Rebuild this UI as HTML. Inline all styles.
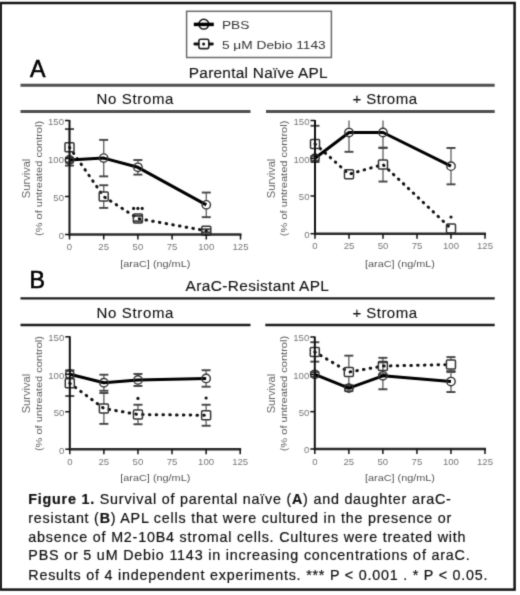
<!DOCTYPE html>
<html><head><meta charset="utf-8"><style>
html,body{margin:0;padding:0;background:#fff;width:520px;height:595px;overflow:hidden}
svg{display:block;font-family:"Liberation Sans", sans-serif}
</style></head><body>
<svg width="520" height="595" viewBox="0 0 520 595">
<defs><filter id="bl" x="-2%" y="-2%" width="104%" height="104%" color-interpolation-filters="sRGB"><feConvolveMatrix order="3" kernelMatrix="0.0192 0.1001 0.0192 0.1001 0.5228 0.1001 0.0192 0.1001 0.0192" edgeMode="none"/></filter></defs>
<rect x="0" y="0" width="520" height="595" fill="#fff"/>
<g filter="url(#bl)">
<rect x="0" y="0" width="520" height="595" fill="#fff"/>
<rect x="0.7" y="3" width="513.9" height="586.6" fill="none" stroke="#151515" stroke-width="2.5"/>
<rect x="186.6" y="11.3" width="144.8" height="46.2" fill="none" stroke="#6a6a6a" stroke-width="1.5"/>
<circle cx="203.8" cy="24.2" r="4.9" fill="#fff" stroke="#111" stroke-width="1.5"/>
<line x1="193.8" y1="24.4" x2="213.8" y2="24.4" stroke="#000" stroke-width="3.5"/>
<rect x="198.9" y="39.3" width="9.9" height="9.3" rx="1.8" fill="#fff" stroke="#222" stroke-width="1.6"/>
<line x1="194.8" y1="44" x2="198" y2="44" stroke="#111" stroke-width="2.8" stroke-linecap="round"/>
<line x1="209.6" y1="44" x2="212.4" y2="44" stroke="#111" stroke-width="2.8" stroke-linecap="round"/>
<circle cx="203.6" cy="43.9" r="1.5" fill="#111"/>
<text x="221.9" y="29.3" font-size="11.6" textLength="27.5" lengthAdjust="spacingAndGlyphs" fill="#333">PBS</text>
<text x="221.9" y="49" font-size="11.6" textLength="103.8" lengthAdjust="spacingAndGlyphs" fill="#333">5 μM Debio 1143</text>
<text x="30.1" y="76.7" font-size="23.2" fill="#000" stroke="#000" stroke-width="0.6">A</text>
<text x="188.8" y="78" font-size="15.4" textLength="138.8" lengthAdjust="spacing" fill="#151515" stroke="#151515" stroke-width="0.15">Parental Naïve APL</text>
<line x1="20.5" y1="85.2" x2="494.7" y2="85.2" stroke="#505050" stroke-width="3"/>
<text x="96.4" y="103.6" font-size="15" textLength="77" lengthAdjust="spacing" fill="#111" stroke="#111" stroke-width="0.1">No Stroma</text>
<text x="352.4" y="103.6" font-size="15" textLength="64.6" lengthAdjust="spacing" fill="#111" stroke="#111" stroke-width="0.1">+ Stroma</text>
<line x1="20.5" y1="111.6" x2="250.5" y2="111.6" stroke="#505050" stroke-width="3"/>
<line x1="266" y1="111.6" x2="494.7" y2="111.6" stroke="#505050" stroke-width="3"/>
<text x="29.4" y="288.4" font-size="23.2" fill="#000" stroke="#000" stroke-width="0.6">B</text>
<text x="185.6" y="291.2" font-size="15.4" textLength="143.3" lengthAdjust="spacing" fill="#151515" stroke="#151515" stroke-width="0.15">AraC-Resistant APL</text>
<line x1="20.5" y1="298.4" x2="494.7" y2="298.4" stroke="#1e1e1e" stroke-width="2.3"/>
<text x="96.4" y="318" font-size="15" textLength="77" lengthAdjust="spacing" fill="#111" stroke="#111" stroke-width="0.1">No Stroma</text>
<text x="352.4" y="318" font-size="15" textLength="64.6" lengthAdjust="spacing" fill="#111" stroke="#111" stroke-width="0.1">+ Stroma</text>
<line x1="20.5" y1="325" x2="250.5" y2="325" stroke="#1e1e1e" stroke-width="2.3"/>
<line x1="265.3" y1="325" x2="494.7" y2="325" stroke="#1e1e1e" stroke-width="2.3"/>
<text x="64" y="238.9" font-size="9.6" text-anchor="end" fill="#777">0</text>
<text x="64" y="200.9" font-size="9.6" text-anchor="end" fill="#777">50</text>
<text x="64" y="162.9" font-size="9.6" text-anchor="end" fill="#777">100</text>
<text x="64" y="124.9" font-size="9.6" text-anchor="end" fill="#777">150</text>
<text x="69.5" y="250" font-size="9.6" text-anchor="middle" fill="#777">0</text>
<text x="103.7" y="250" font-size="9.6" text-anchor="middle" fill="#777">25</text>
<text x="137.9" y="250" font-size="9.6" text-anchor="middle" fill="#777">50</text>
<text x="172.1" y="250" font-size="9.6" text-anchor="middle" fill="#777">75</text>
<text x="206.3" y="250" font-size="9.6" text-anchor="middle" fill="#777">100</text>
<text x="240.5" y="250" font-size="9.6" text-anchor="middle" fill="#777">125</text>
<text transform="translate(29.9,178.4) rotate(-90)" font-size="10.4" text-anchor="middle" textLength="39.5" lengthAdjust="spacingAndGlyphs" fill="#666">Survival</text>
<text transform="translate(42.3,178.4) rotate(-90)" font-size="9.6" text-anchor="middle" textLength="115" lengthAdjust="spacingAndGlyphs" fill="#5a5a5a">(% of untreated control)</text>
<text x="155.3" y="266.6" font-size="9.6" text-anchor="middle" textLength="70" lengthAdjust="spacingAndGlyphs" fill="#555">[araC] (ng/mL)</text>
<line x1="69.5" y1="142.83" x2="69.5" y2="129.09" stroke="#6a6a6a" stroke-width="1.4"/>
<line x1="65" y1="129.09" x2="74" y2="129.09" stroke="#444" stroke-width="1.9"/>
<line x1="69.5" y1="151.83" x2="69.5" y2="165.57" stroke="#6a6a6a" stroke-width="1.4"/>
<line x1="65" y1="165.57" x2="74" y2="165.57" stroke="#444" stroke-width="1.9"/>
<line x1="103.7" y1="192.08" x2="103.7" y2="185.25" stroke="#6a6a6a" stroke-width="1.4"/>
<line x1="99.2" y1="185.25" x2="108.2" y2="185.25" stroke="#444" stroke-width="1.9"/>
<line x1="103.7" y1="201.08" x2="103.7" y2="207.9" stroke="#6a6a6a" stroke-width="1.4"/>
<line x1="99.2" y1="207.9" x2="108.2" y2="207.9" stroke="#444" stroke-width="1.9"/>
<line x1="133.4" y1="215.88" x2="142.4" y2="215.88" stroke="#444" stroke-width="1.9"/>
<line x1="133.4" y1="221.2" x2="142.4" y2="221.2" stroke="#444" stroke-width="1.9"/>
<line x1="201.8" y1="229.26" x2="210.8" y2="229.26" stroke="#444" stroke-width="1.9"/>
<line x1="201.8" y1="232.3" x2="210.8" y2="232.3" stroke="#444" stroke-width="1.9"/>
<line x1="65" y1="157.74" x2="74" y2="157.74" stroke="#444" stroke-width="1.9"/>
<line x1="65" y1="162.3" x2="74" y2="162.3" stroke="#444" stroke-width="1.9"/>
<line x1="103.7" y1="153.62" x2="103.7" y2="139.88" stroke="#6a6a6a" stroke-width="1.4"/>
<line x1="99.2" y1="139.88" x2="108.2" y2="139.88" stroke="#444" stroke-width="1.9"/>
<line x1="103.7" y1="162.62" x2="103.7" y2="176.36" stroke="#6a6a6a" stroke-width="1.4"/>
<line x1="99.2" y1="176.36" x2="108.2" y2="176.36" stroke="#444" stroke-width="1.9"/>
<line x1="137.9" y1="162.82" x2="137.9" y2="160.02" stroke="#6a6a6a" stroke-width="1.4"/>
<line x1="133.4" y1="160.02" x2="142.4" y2="160.02" stroke="#444" stroke-width="1.9"/>
<line x1="137.9" y1="171.82" x2="137.9" y2="174.61" stroke="#6a6a6a" stroke-width="1.4"/>
<line x1="133.4" y1="174.61" x2="142.4" y2="174.61" stroke="#444" stroke-width="1.9"/>
<line x1="206.3" y1="200.36" x2="206.3" y2="192.55" stroke="#6a6a6a" stroke-width="1.4"/>
<line x1="201.8" y1="192.55" x2="210.8" y2="192.55" stroke="#444" stroke-width="1.9"/>
<line x1="206.3" y1="209.36" x2="206.3" y2="217.17" stroke="#6a6a6a" stroke-width="1.4"/>
<line x1="201.8" y1="217.17" x2="210.8" y2="217.17" stroke="#444" stroke-width="1.9"/>
<polyline points="69.5,147.33 103.7,196.58 137.9,218.54 206.3,230.78" fill="none" stroke="#111" stroke-width="3" stroke-dasharray="0.6 6.2" stroke-linecap="round"/>
<polyline points="69.5,160.02 103.7,158.12 137.9,167.32 206.3,204.86" fill="none" stroke="#000" stroke-width="3" stroke-linejoin="round"/>
<rect x="65" y="142.83" width="9" height="9" rx="1" fill="none" stroke="#333" stroke-width="1.5"/>
<rect x="99.2" y="192.08" width="9" height="9" rx="1" fill="none" stroke="#333" stroke-width="1.5"/>
<rect x="133.4" y="214.04" width="9" height="9" rx="1" fill="none" stroke="#333" stroke-width="1.5"/>
<rect x="201.8" y="226.28" width="9" height="9" rx="1" fill="none" stroke="#333" stroke-width="1.5"/>
<circle cx="69.5" cy="160.02" r="4.2" fill="none" stroke="#333" stroke-width="1.4"/>
<circle cx="103.7" cy="158.12" r="4.2" fill="none" stroke="#333" stroke-width="1.4"/>
<circle cx="137.9" cy="167.32" r="4.2" fill="none" stroke="#333" stroke-width="1.4"/>
<circle cx="206.3" cy="204.86" r="4.2" fill="none" stroke="#333" stroke-width="1.4"/>
<circle cx="133.6" cy="208.4" r="1.6" fill="#111"/>
<circle cx="137.9" cy="208.4" r="1.6" fill="#111"/>
<circle cx="142.2" cy="208.4" r="1.6" fill="#111"/>
<line x1="69.5" y1="120" x2="69.5" y2="235.5" stroke="#111" stroke-width="2"/>
<line x1="68.5" y1="234.5" x2="241.5" y2="234.5" stroke="#2a2a2a" stroke-width="2.6"/>
<line x1="65" y1="234.5" x2="69.5" y2="234.5" stroke="#111" stroke-width="1.5"/>
<line x1="65" y1="196.5" x2="69.5" y2="196.5" stroke="#111" stroke-width="1.5"/>
<line x1="65" y1="158.5" x2="69.5" y2="158.5" stroke="#111" stroke-width="1.5"/>
<line x1="65" y1="120.5" x2="69.5" y2="120.5" stroke="#111" stroke-width="1.5"/>
<line x1="69.5" y1="234.5" x2="69.5" y2="239.5" stroke="#111" stroke-width="1.5"/>
<line x1="103.7" y1="234.5" x2="103.7" y2="239.5" stroke="#111" stroke-width="1.5"/>
<line x1="137.9" y1="234.5" x2="137.9" y2="239.5" stroke="#111" stroke-width="1.5"/>
<line x1="172.1" y1="234.5" x2="172.1" y2="239.5" stroke="#111" stroke-width="1.5"/>
<line x1="206.3" y1="234.5" x2="206.3" y2="239.5" stroke="#111" stroke-width="1.5"/>
<line x1="240.5" y1="234.5" x2="240.5" y2="239.5" stroke="#111" stroke-width="1.5"/>
<text x="309.5" y="238.1" font-size="9.6" text-anchor="end" fill="#777">0</text>
<text x="309.5" y="200.37" font-size="9.6" text-anchor="end" fill="#777">50</text>
<text x="309.5" y="162.63" font-size="9.6" text-anchor="end" fill="#777">100</text>
<text x="309.5" y="124.9" font-size="9.6" text-anchor="end" fill="#777">150</text>
<text x="315" y="249.2" font-size="9.6" text-anchor="middle" fill="#777">0</text>
<text x="349" y="249.2" font-size="9.6" text-anchor="middle" fill="#777">25</text>
<text x="383" y="249.2" font-size="9.6" text-anchor="middle" fill="#777">50</text>
<text x="417" y="249.2" font-size="9.6" text-anchor="middle" fill="#777">75</text>
<text x="451" y="249.2" font-size="9.6" text-anchor="middle" fill="#777">100</text>
<text x="485" y="249.2" font-size="9.6" text-anchor="middle" fill="#777">125</text>
<text transform="translate(274.6,178.4) rotate(-90)" font-size="10.4" text-anchor="middle" textLength="39.5" lengthAdjust="spacingAndGlyphs" fill="#666">Survival</text>
<text transform="translate(287.2,178.4) rotate(-90)" font-size="9.6" text-anchor="middle" textLength="115.5" lengthAdjust="spacingAndGlyphs" fill="#5a5a5a">(% of untreated control)</text>
<text x="400" y="266.6" font-size="9.6" text-anchor="middle" textLength="70" lengthAdjust="spacingAndGlyphs" fill="#555">[araC] (ng/mL)</text>
<line x1="315" y1="139.39" x2="315" y2="125.78" stroke="#6a6a6a" stroke-width="1.4"/>
<line x1="310.5" y1="125.78" x2="319.5" y2="125.78" stroke="#444" stroke-width="1.9"/>
<line x1="315" y1="148.39" x2="315" y2="162.01" stroke="#6a6a6a" stroke-width="1.4"/>
<line x1="310.5" y1="162.01" x2="319.5" y2="162.01" stroke="#444" stroke-width="1.9"/>
<line x1="383" y1="160.07" x2="383" y2="147.59" stroke="#6a6a6a" stroke-width="1.4"/>
<line x1="378.5" y1="147.59" x2="387.5" y2="147.59" stroke="#444" stroke-width="1.9"/>
<line x1="383" y1="169.07" x2="383" y2="181.55" stroke="#6a6a6a" stroke-width="1.4"/>
<line x1="378.5" y1="181.55" x2="387.5" y2="181.55" stroke="#444" stroke-width="1.9"/>
<line x1="310.5" y1="155.97" x2="319.5" y2="155.97" stroke="#444" stroke-width="1.9"/>
<line x1="310.5" y1="160.5" x2="319.5" y2="160.5" stroke="#444" stroke-width="1.9"/>
<line x1="349" y1="128.07" x2="349" y2="120.5" stroke="#6a6a6a" stroke-width="1.4"/>
<line x1="349" y1="137.07" x2="349" y2="151.82" stroke="#6a6a6a" stroke-width="1.4"/>
<line x1="344.5" y1="151.82" x2="353.5" y2="151.82" stroke="#444" stroke-width="1.9"/>
<line x1="383" y1="128" x2="383" y2="120.5" stroke="#6a6a6a" stroke-width="1.4"/>
<line x1="383" y1="137" x2="383" y2="147.97" stroke="#6a6a6a" stroke-width="1.4"/>
<line x1="378.5" y1="147.97" x2="387.5" y2="147.97" stroke="#444" stroke-width="1.9"/>
<line x1="451" y1="161.66" x2="451" y2="147.97" stroke="#6a6a6a" stroke-width="1.4"/>
<line x1="446.5" y1="147.97" x2="455.5" y2="147.97" stroke="#444" stroke-width="1.9"/>
<line x1="451" y1="170.66" x2="451" y2="184.34" stroke="#6a6a6a" stroke-width="1.4"/>
<line x1="446.5" y1="184.34" x2="455.5" y2="184.34" stroke="#444" stroke-width="1.9"/>
<polyline points="315,143.89 349,174.16 383,164.57 451,228.49" fill="none" stroke="#111" stroke-width="3" stroke-dasharray="0.6 6.2" stroke-linecap="round"/>
<polyline points="315,158.23 349,132.57 383,132.5 451,166.16" fill="none" stroke="#000" stroke-width="3" stroke-linejoin="round"/>
<rect x="310.5" y="139.39" width="9" height="9" rx="1" fill="none" stroke="#333" stroke-width="1.5"/>
<rect x="344.5" y="169.66" width="9" height="9" rx="1" fill="none" stroke="#333" stroke-width="1.5"/>
<rect x="378.5" y="160.07" width="9" height="9" rx="1" fill="none" stroke="#333" stroke-width="1.5"/>
<rect x="446.5" y="223.99" width="9" height="9" rx="1" fill="none" stroke="#333" stroke-width="1.5"/>
<circle cx="315" cy="158.23" r="4.2" fill="none" stroke="#333" stroke-width="1.4"/>
<circle cx="349" cy="132.57" r="4.2" fill="none" stroke="#333" stroke-width="1.4"/>
<circle cx="383" cy="132.5" r="4.2" fill="none" stroke="#333" stroke-width="1.4"/>
<circle cx="451" cy="166.16" r="4.2" fill="none" stroke="#333" stroke-width="1.4"/>
<circle cx="451" cy="217" r="1.6" fill="#111"/>
<line x1="315" y1="120" x2="315" y2="234.7" stroke="#111" stroke-width="2"/>
<line x1="314" y1="233.7" x2="486" y2="233.7" stroke="#2a2a2a" stroke-width="2.6"/>
<line x1="310.5" y1="233.7" x2="315" y2="233.7" stroke="#111" stroke-width="1.5"/>
<line x1="310.5" y1="195.97" x2="315" y2="195.97" stroke="#111" stroke-width="1.5"/>
<line x1="310.5" y1="158.23" x2="315" y2="158.23" stroke="#111" stroke-width="1.5"/>
<line x1="310.5" y1="120.5" x2="315" y2="120.5" stroke="#111" stroke-width="1.5"/>
<line x1="315" y1="233.7" x2="315" y2="238.7" stroke="#111" stroke-width="1.5"/>
<line x1="349" y1="233.7" x2="349" y2="238.7" stroke="#111" stroke-width="1.5"/>
<line x1="383" y1="233.7" x2="383" y2="238.7" stroke="#111" stroke-width="1.5"/>
<line x1="417" y1="233.7" x2="417" y2="238.7" stroke="#111" stroke-width="1.5"/>
<line x1="451" y1="233.7" x2="451" y2="238.7" stroke="#111" stroke-width="1.5"/>
<line x1="485" y1="233.7" x2="485" y2="238.7" stroke="#111" stroke-width="1.5"/>
<text x="64.3" y="453.6" font-size="9.6" text-anchor="end" fill="#777">0</text>
<text x="64.3" y="416.13" font-size="9.6" text-anchor="end" fill="#777">50</text>
<text x="64.3" y="378.67" font-size="9.6" text-anchor="end" fill="#777">100</text>
<text x="64.3" y="341.2" font-size="9.6" text-anchor="end" fill="#777">150</text>
<text x="69.8" y="464.7" font-size="9.6" text-anchor="middle" fill="#777">0</text>
<text x="103.88" y="464.7" font-size="9.6" text-anchor="middle" fill="#777">25</text>
<text x="137.96" y="464.7" font-size="9.6" text-anchor="middle" fill="#777">50</text>
<text x="172.04" y="464.7" font-size="9.6" text-anchor="middle" fill="#777">75</text>
<text x="206.12" y="464.7" font-size="9.6" text-anchor="middle" fill="#777">100</text>
<text x="240.2" y="464.7" font-size="9.6" text-anchor="middle" fill="#777">125</text>
<text transform="translate(29.9,393.6) rotate(-90)" font-size="10.4" text-anchor="middle" textLength="39.5" lengthAdjust="spacingAndGlyphs" fill="#666">Survival</text>
<text transform="translate(42.3,393.6) rotate(-90)" font-size="9.6" text-anchor="middle" textLength="115" lengthAdjust="spacingAndGlyphs" fill="#5a5a5a">(% of untreated control)</text>
<text x="155.3" y="481.3" font-size="9.6" text-anchor="middle" textLength="70" lengthAdjust="spacingAndGlyphs" fill="#555">[araC] (ng/mL)</text>
<line x1="69.8" y1="378.76" x2="69.8" y2="370.52" stroke="#6a6a6a" stroke-width="1.4"/>
<line x1="65.3" y1="370.52" x2="74.3" y2="370.52" stroke="#444" stroke-width="1.9"/>
<line x1="69.8" y1="387.76" x2="69.8" y2="396" stroke="#6a6a6a" stroke-width="1.4"/>
<line x1="65.3" y1="396" x2="74.3" y2="396" stroke="#444" stroke-width="1.9"/>
<line x1="103.88" y1="403.94" x2="103.88" y2="393" stroke="#6a6a6a" stroke-width="1.4"/>
<line x1="99.38" y1="393" x2="108.38" y2="393" stroke="#444" stroke-width="1.9"/>
<line x1="103.88" y1="412.94" x2="103.88" y2="423.87" stroke="#6a6a6a" stroke-width="1.4"/>
<line x1="99.38" y1="423.87" x2="108.38" y2="423.87" stroke="#444" stroke-width="1.9"/>
<line x1="137.96" y1="410.01" x2="137.96" y2="404.76" stroke="#6a6a6a" stroke-width="1.4"/>
<line x1="133.46" y1="404.76" x2="142.46" y2="404.76" stroke="#444" stroke-width="1.9"/>
<line x1="137.96" y1="419.01" x2="137.96" y2="424.25" stroke="#6a6a6a" stroke-width="1.4"/>
<line x1="133.46" y1="424.25" x2="142.46" y2="424.25" stroke="#444" stroke-width="1.9"/>
<line x1="206.12" y1="410.76" x2="206.12" y2="404.76" stroke="#6a6a6a" stroke-width="1.4"/>
<line x1="201.62" y1="404.76" x2="210.62" y2="404.76" stroke="#444" stroke-width="1.9"/>
<line x1="206.12" y1="419.76" x2="206.12" y2="425.75" stroke="#6a6a6a" stroke-width="1.4"/>
<line x1="201.62" y1="425.75" x2="210.62" y2="425.75" stroke="#444" stroke-width="1.9"/>
<line x1="65.3" y1="370.52" x2="74.3" y2="370.52" stroke="#444" stroke-width="1.9"/>
<line x1="65.3" y1="378.01" x2="74.3" y2="378.01" stroke="#444" stroke-width="1.9"/>
<line x1="103.88" y1="378.23" x2="103.88" y2="374.72" stroke="#6a6a6a" stroke-width="1.4"/>
<line x1="99.38" y1="374.72" x2="108.38" y2="374.72" stroke="#444" stroke-width="1.9"/>
<line x1="103.88" y1="387.23" x2="103.88" y2="390.75" stroke="#6a6a6a" stroke-width="1.4"/>
<line x1="99.38" y1="390.75" x2="108.38" y2="390.75" stroke="#444" stroke-width="1.9"/>
<line x1="137.96" y1="375.46" x2="137.96" y2="373.97" stroke="#6a6a6a" stroke-width="1.4"/>
<line x1="133.46" y1="373.97" x2="142.46" y2="373.97" stroke="#444" stroke-width="1.9"/>
<line x1="137.96" y1="384.46" x2="137.96" y2="385.96" stroke="#6a6a6a" stroke-width="1.4"/>
<line x1="133.46" y1="385.96" x2="142.46" y2="385.96" stroke="#444" stroke-width="1.9"/>
<line x1="206.12" y1="373.96" x2="206.12" y2="370.22" stroke="#6a6a6a" stroke-width="1.4"/>
<line x1="201.62" y1="370.22" x2="210.62" y2="370.22" stroke="#444" stroke-width="1.9"/>
<line x1="206.12" y1="382.96" x2="206.12" y2="386.71" stroke="#6a6a6a" stroke-width="1.4"/>
<line x1="201.62" y1="386.71" x2="210.62" y2="386.71" stroke="#444" stroke-width="1.9"/>
<polyline points="69.8,383.26 103.88,408.44 137.96,414.51 206.12,415.26" fill="none" stroke="#111" stroke-width="3" stroke-dasharray="0.6 6.2" stroke-linecap="round"/>
<polyline points="69.8,374.27 103.88,382.73 137.96,379.96 206.12,378.46" fill="none" stroke="#000" stroke-width="3" stroke-linejoin="round"/>
<rect x="65.3" y="378.76" width="9" height="9" rx="1" fill="none" stroke="#333" stroke-width="1.5"/>
<rect x="99.38" y="403.94" width="9" height="9" rx="1" fill="none" stroke="#333" stroke-width="1.5"/>
<rect x="133.46" y="410.01" width="9" height="9" rx="1" fill="none" stroke="#333" stroke-width="1.5"/>
<rect x="201.62" y="410.76" width="9" height="9" rx="1" fill="none" stroke="#333" stroke-width="1.5"/>
<circle cx="69.8" cy="374.27" r="4.2" fill="none" stroke="#333" stroke-width="1.4"/>
<circle cx="103.88" cy="382.73" r="4.2" fill="none" stroke="#333" stroke-width="1.4"/>
<circle cx="137.96" cy="379.96" r="4.2" fill="none" stroke="#333" stroke-width="1.4"/>
<circle cx="206.12" cy="378.46" r="4.2" fill="none" stroke="#333" stroke-width="1.4"/>
<circle cx="137.96" cy="398.4" r="1.6" fill="#111"/>
<circle cx="206.12" cy="398" r="1.6" fill="#111"/>
<line x1="69.8" y1="336.3" x2="69.8" y2="450.2" stroke="#111" stroke-width="2"/>
<line x1="68.8" y1="449.2" x2="241.2" y2="449.2" stroke="#2a2a2a" stroke-width="2.6"/>
<line x1="65.3" y1="449.2" x2="69.8" y2="449.2" stroke="#111" stroke-width="1.5"/>
<line x1="65.3" y1="411.73" x2="69.8" y2="411.73" stroke="#111" stroke-width="1.5"/>
<line x1="65.3" y1="374.27" x2="69.8" y2="374.27" stroke="#111" stroke-width="1.5"/>
<line x1="65.3" y1="336.8" x2="69.8" y2="336.8" stroke="#111" stroke-width="1.5"/>
<line x1="69.8" y1="449.2" x2="69.8" y2="454.2" stroke="#111" stroke-width="1.5"/>
<line x1="103.88" y1="449.2" x2="103.88" y2="454.2" stroke="#111" stroke-width="1.5"/>
<line x1="137.96" y1="449.2" x2="137.96" y2="454.2" stroke="#111" stroke-width="1.5"/>
<line x1="172.04" y1="449.2" x2="172.04" y2="454.2" stroke="#111" stroke-width="1.5"/>
<line x1="206.12" y1="449.2" x2="206.12" y2="454.2" stroke="#111" stroke-width="1.5"/>
<line x1="240.2" y1="449.2" x2="240.2" y2="454.2" stroke="#111" stroke-width="1.5"/>
<text x="309.3" y="453.4" font-size="9.6" text-anchor="end" fill="#777">0</text>
<text x="309.3" y="416.07" font-size="9.6" text-anchor="end" fill="#777">50</text>
<text x="309.3" y="378.73" font-size="9.6" text-anchor="end" fill="#777">100</text>
<text x="309.3" y="341.4" font-size="9.6" text-anchor="end" fill="#777">150</text>
<text x="314.8" y="464.5" font-size="9.6" text-anchor="middle" fill="#777">0</text>
<text x="348.84" y="464.5" font-size="9.6" text-anchor="middle" fill="#777">25</text>
<text x="382.88" y="464.5" font-size="9.6" text-anchor="middle" fill="#777">50</text>
<text x="416.92" y="464.5" font-size="9.6" text-anchor="middle" fill="#777">75</text>
<text x="450.96" y="464.5" font-size="9.6" text-anchor="middle" fill="#777">100</text>
<text x="485" y="464.5" font-size="9.6" text-anchor="middle" fill="#777">125</text>
<text transform="translate(274.6,393.6) rotate(-90)" font-size="10.4" text-anchor="middle" textLength="39.5" lengthAdjust="spacingAndGlyphs" fill="#666">Survival</text>
<text transform="translate(287.2,393.6) rotate(-90)" font-size="9.6" text-anchor="middle" textLength="115.5" lengthAdjust="spacingAndGlyphs" fill="#5a5a5a">(% of untreated control)</text>
<text x="400" y="481.3" font-size="9.6" text-anchor="middle" textLength="70" lengthAdjust="spacingAndGlyphs" fill="#555">[araC] (ng/mL)</text>
<line x1="314.8" y1="347.43" x2="314.8" y2="342.23" stroke="#6a6a6a" stroke-width="1.4"/>
<line x1="310.3" y1="342.23" x2="319.3" y2="342.23" stroke="#444" stroke-width="1.9"/>
<line x1="314.8" y1="356.43" x2="314.8" y2="361.64" stroke="#6a6a6a" stroke-width="1.4"/>
<line x1="310.3" y1="361.64" x2="319.3" y2="361.64" stroke="#444" stroke-width="1.9"/>
<line x1="348.84" y1="367.59" x2="348.84" y2="355.67" stroke="#6a6a6a" stroke-width="1.4"/>
<line x1="344.34" y1="355.67" x2="353.34" y2="355.67" stroke="#444" stroke-width="1.9"/>
<line x1="348.84" y1="376.59" x2="348.84" y2="388.52" stroke="#6a6a6a" stroke-width="1.4"/>
<line x1="344.34" y1="388.52" x2="353.34" y2="388.52" stroke="#444" stroke-width="1.9"/>
<line x1="382.88" y1="361.55" x2="382.88" y2="357.83" stroke="#6a6a6a" stroke-width="1.4"/>
<line x1="378.38" y1="357.83" x2="387.38" y2="357.83" stroke="#444" stroke-width="1.9"/>
<line x1="382.88" y1="370.55" x2="382.88" y2="374.26" stroke="#6a6a6a" stroke-width="1.4"/>
<line x1="378.38" y1="374.26" x2="387.38" y2="374.26" stroke="#444" stroke-width="1.9"/>
<line x1="450.96" y1="360.05" x2="450.96" y2="357.09" stroke="#6a6a6a" stroke-width="1.4"/>
<line x1="446.46" y1="357.09" x2="455.46" y2="357.09" stroke="#444" stroke-width="1.9"/>
<line x1="450.96" y1="369.05" x2="450.96" y2="372.02" stroke="#6a6a6a" stroke-width="1.4"/>
<line x1="446.46" y1="372.02" x2="455.46" y2="372.02" stroke="#444" stroke-width="1.9"/>
<line x1="310.3" y1="372.09" x2="319.3" y2="372.09" stroke="#444" stroke-width="1.9"/>
<line x1="310.3" y1="376.57" x2="319.3" y2="376.57" stroke="#444" stroke-width="1.9"/>
<line x1="344.34" y1="385.16" x2="353.34" y2="385.16" stroke="#444" stroke-width="1.9"/>
<line x1="344.34" y1="391.13" x2="353.34" y2="391.13" stroke="#444" stroke-width="1.9"/>
<line x1="382.88" y1="371.33" x2="382.88" y2="362.39" stroke="#6a6a6a" stroke-width="1.4"/>
<line x1="378.38" y1="362.39" x2="387.38" y2="362.39" stroke="#444" stroke-width="1.9"/>
<line x1="382.88" y1="380.33" x2="382.88" y2="389.27" stroke="#6a6a6a" stroke-width="1.4"/>
<line x1="378.38" y1="389.27" x2="387.38" y2="389.27" stroke="#444" stroke-width="1.9"/>
<line x1="450.96" y1="377.08" x2="450.96" y2="371.12" stroke="#6a6a6a" stroke-width="1.4"/>
<line x1="446.46" y1="371.12" x2="455.46" y2="371.12" stroke="#444" stroke-width="1.9"/>
<line x1="450.96" y1="386.08" x2="450.96" y2="392.03" stroke="#6a6a6a" stroke-width="1.4"/>
<line x1="446.46" y1="392.03" x2="455.46" y2="392.03" stroke="#444" stroke-width="1.9"/>
<polyline points="314.8,351.93 348.84,372.09 382.88,366.05 450.96,364.55" fill="none" stroke="#111" stroke-width="3" stroke-dasharray="0.6 6.2" stroke-linecap="round"/>
<polyline points="314.8,374.33 348.84,388.15 382.88,375.83 450.96,381.58" fill="none" stroke="#000" stroke-width="3" stroke-linejoin="round"/>
<rect x="310.3" y="347.43" width="9" height="9" rx="1" fill="none" stroke="#333" stroke-width="1.5"/>
<rect x="344.34" y="367.59" width="9" height="9" rx="1" fill="none" stroke="#333" stroke-width="1.5"/>
<rect x="378.38" y="361.55" width="9" height="9" rx="1" fill="none" stroke="#333" stroke-width="1.5"/>
<rect x="446.46" y="360.05" width="9" height="9" rx="1" fill="none" stroke="#333" stroke-width="1.5"/>
<circle cx="314.8" cy="374.33" r="4.2" fill="none" stroke="#333" stroke-width="1.4"/>
<circle cx="348.84" cy="388.15" r="4.2" fill="none" stroke="#333" stroke-width="1.4"/>
<circle cx="382.88" cy="375.83" r="4.2" fill="none" stroke="#333" stroke-width="1.4"/>
<circle cx="450.96" cy="381.58" r="4.2" fill="none" stroke="#333" stroke-width="1.4"/>
<line x1="314.8" y1="336.5" x2="314.8" y2="450" stroke="#111" stroke-width="2"/>
<line x1="313.8" y1="449" x2="486" y2="449" stroke="#2a2a2a" stroke-width="2.6"/>
<line x1="310.3" y1="449" x2="314.8" y2="449" stroke="#111" stroke-width="1.5"/>
<line x1="310.3" y1="411.67" x2="314.8" y2="411.67" stroke="#111" stroke-width="1.5"/>
<line x1="310.3" y1="374.33" x2="314.8" y2="374.33" stroke="#111" stroke-width="1.5"/>
<line x1="310.3" y1="337" x2="314.8" y2="337" stroke="#111" stroke-width="1.5"/>
<line x1="314.8" y1="449" x2="314.8" y2="454" stroke="#111" stroke-width="1.5"/>
<line x1="348.84" y1="449" x2="348.84" y2="454" stroke="#111" stroke-width="1.5"/>
<line x1="382.88" y1="449" x2="382.88" y2="454" stroke="#111" stroke-width="1.5"/>
<line x1="416.92" y1="449" x2="416.92" y2="454" stroke="#111" stroke-width="1.5"/>
<line x1="450.96" y1="449" x2="450.96" y2="454" stroke="#111" stroke-width="1.5"/>
<line x1="485" y1="449" x2="485" y2="454" stroke="#111" stroke-width="1.5"/>
<text x="28.3" y="504.2" font-size="14.3" textLength="422.5" lengthAdjust="spacing" fill="#111" stroke="#111" stroke-width="0.2"><tspan font-weight="bold">Figure 1.</tspan> Survival of parental naïve (<tspan font-weight="bold">A</tspan>) and daughter araC-</text>
<text x="28.3" y="522.9" font-size="14.3" textLength="423" lengthAdjust="spacing" fill="#111" stroke="#111" stroke-width="0.2">resistant (<tspan font-weight="bold">B</tspan>) APL cells that were cultured in the presence or</text>
<text x="28.3" y="541.5" font-size="14.3" textLength="437.2" lengthAdjust="spacing" fill="#111" stroke="#111" stroke-width="0.2">absence of M2-10B4 stromal cells. Cultures were treated with</text>
<text x="28.3" y="560.2" font-size="14.3" textLength="441.4" lengthAdjust="spacing" fill="#111" stroke="#111" stroke-width="0.2">PBS or 5 uM Debio 1143 in increasing concentrations of araC.</text>
<text x="28.3" y="579.6" font-size="14.3" textLength="459.2" lengthAdjust="spacing" fill="#111" stroke="#111" stroke-width="0.2">Results of 4 independent experiments. *** P &lt; 0.001 . * P &lt; 0.05.</text>
</g>
</svg>
</body></html>
